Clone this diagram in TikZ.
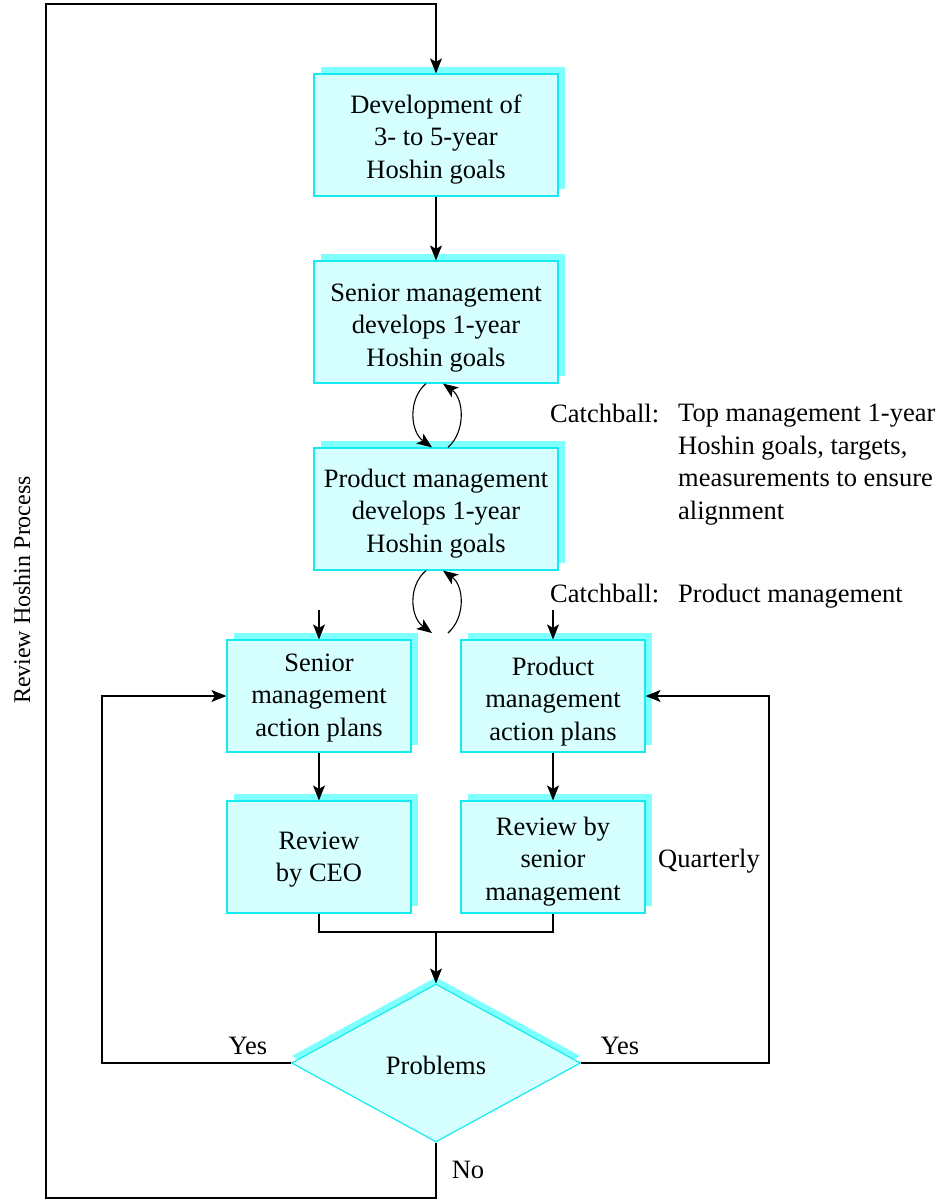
\documentclass[tikz,border=0pt]{standalone}
\usepackage{fontspec}
\setmainfont{Liberation Serif}
\usetikzlibrary{arrows.meta,shapes.geometric,shadows,calc}
\definecolor{boxfill}{RGB}{214,255,255}
\definecolor{boxline}{RGB}{20,235,240}
\definecolor{boxshade}{RGB}{128,255,255}
% centred lines of box text, lowered by #1 without changing the box size
\newcommand\boxlines[2]{\raisebox{-#1}[\height][\depth]{\begin{tabular}{@{}c@{}}#2\end{tabular}}}
\begin{document}
\begin{tikzpicture}[x=1pt,y=-1pt,
  every node/.style={font=\fontsize{26.5}{32.5}\selectfont},
  stepbox/.style={draw=boxline, line width=1.2pt, fill=boxfill, inner sep=0pt,
    drop shadow={shadow xshift=7pt, shadow yshift=7pt, fill=boxshade, opacity=1}},
  bigbox/.style={stepbox, minimum width=244pt, minimum height=122pt},
  smallbox/.style={stepbox, minimum width=184pt, minimum height=112pt},
  decision/.style={diamond, draw=boxline, line width=1.2pt, fill=boxfill, inner sep=0pt,
    aspect=1.83, minimum width=289pt, minimum height=158pt,
    drop shadow={shadow xshift=0pt, shadow yshift=7pt, fill=boxshade, opacity=1}},
  plain/.style={inner sep=0pt},
  link/.style={line width=1.1pt},
  arr/.style={link, -{Stealth[length=15pt,width=12pt,inset=3.5pt]}}
]
\useasboundingbox (0,0) rectangle (937,1203);

% process boxes
\node[bigbox] (b1) at (436,135) {\boxlines{4pt}{Development of\\3- to 5-year\\Hoshin goals}};
\node[bigbox] (b2) at (436,322) {\boxlines{5pt}{Senior management\\develops 1-year\\Hoshin goals}};
\node[bigbox] (b3) at (436,509) {\boxlines{4pt}{Product management\\develops 1-year\\Hoshin goals}};
\node[smallbox] (b4) at (319,696) {\boxlines{1pt}{Senior\\management\\action plans}};
\node[smallbox] (b5) at (553,696) {\boxlines{5pt}{Product\\management\\action plans}};
\node[smallbox] (b6) at (319,857) {\boxlines{2pt}{Review\\by CEO}};
\node[smallbox] (b7) at (553,857) {\boxlines{4pt}{Review by\\senior\\management}};
\node[decision] (dia) at (436,1063) {\boxlines{5pt}{Problems}};

% side notes
\node[plain, anchor=north west] (cb1) at (550,404) {Catchball:};
\node[plain, anchor=north west, align=left] (cb1t) at (678,404)
  {Top management 1-year\\Hoshin goals, targets,\\measurements to ensure\\alignment};
\node[plain, anchor=north west] (cb2) at (550,584) {Catchball:};
\node[plain, anchor=north west] (cb2t) at (678,584) {Product management};
\node[plain, anchor=base west] (qt) at (658,867) {Quarterly};
\node[plain] (yl) at (248,1046) {Yes};
\node[plain] (yr) at (620,1046) {Yes};
\node[plain] (no) at (468,1170) {No};
\node[plain, rotate=90, font=\fontsize{24}{29}\selectfont] (rev) at (22,590) {Review Hoshin Process};

% routing points
\coordinate (lt) at (46,4);
\coordinate (lb) at (46,1198);
\coordinate (ly) at (102,1063);
\coordinate (ry) at (769,1063);
\coordinate (mj) at (436,932);
\coordinate (in4) at (319,610);
\coordinate (in5) at (553,610);
\coordinate (cl) at (432,633);
\coordinate (cr) at (448,633);

% connectors
\draw[arr] (b1) -- (b2);
\draw[arr] (dia.south) |- (lb) -- (lt) -| (b1.north);
\draw[arr] (dia.west) -- (ly) |- (b4.west);
\draw[arr] (dia.east) -- (ry) |- (b5.east);
\draw[link] (b6.south) |- (mj) -| (b7.south);
\draw[arr] (mj) -- (dia.north);
\draw[arr] (b4) -- (b6);
\draw[arr] (b5) -- (b7);
\draw[arr] (in4) -- (b4);
\draw[arr] (in5) -- (b5);

% catchball loops
\draw[arr] ($(b2.south)+(-10,0)$) .. controls +(-18,15) and +(-22,-16) .. ($(b3.north)+(-4,0)$);
\draw[arr] ($(b3.north)+(12,0)$) .. controls +(18,-16) and +(21,15) .. ($(b2.south)+(7,0)$);
\draw[arr] ($(b3.south)+(-10,0)$) .. controls +(-18,15) and +(-22,-16) .. (cl);
\draw[arr] (cr) .. controls +(18,-16) and +(21,15) .. ($(b3.south)+(7,0)$);
\end{tikzpicture}
\end{document}
